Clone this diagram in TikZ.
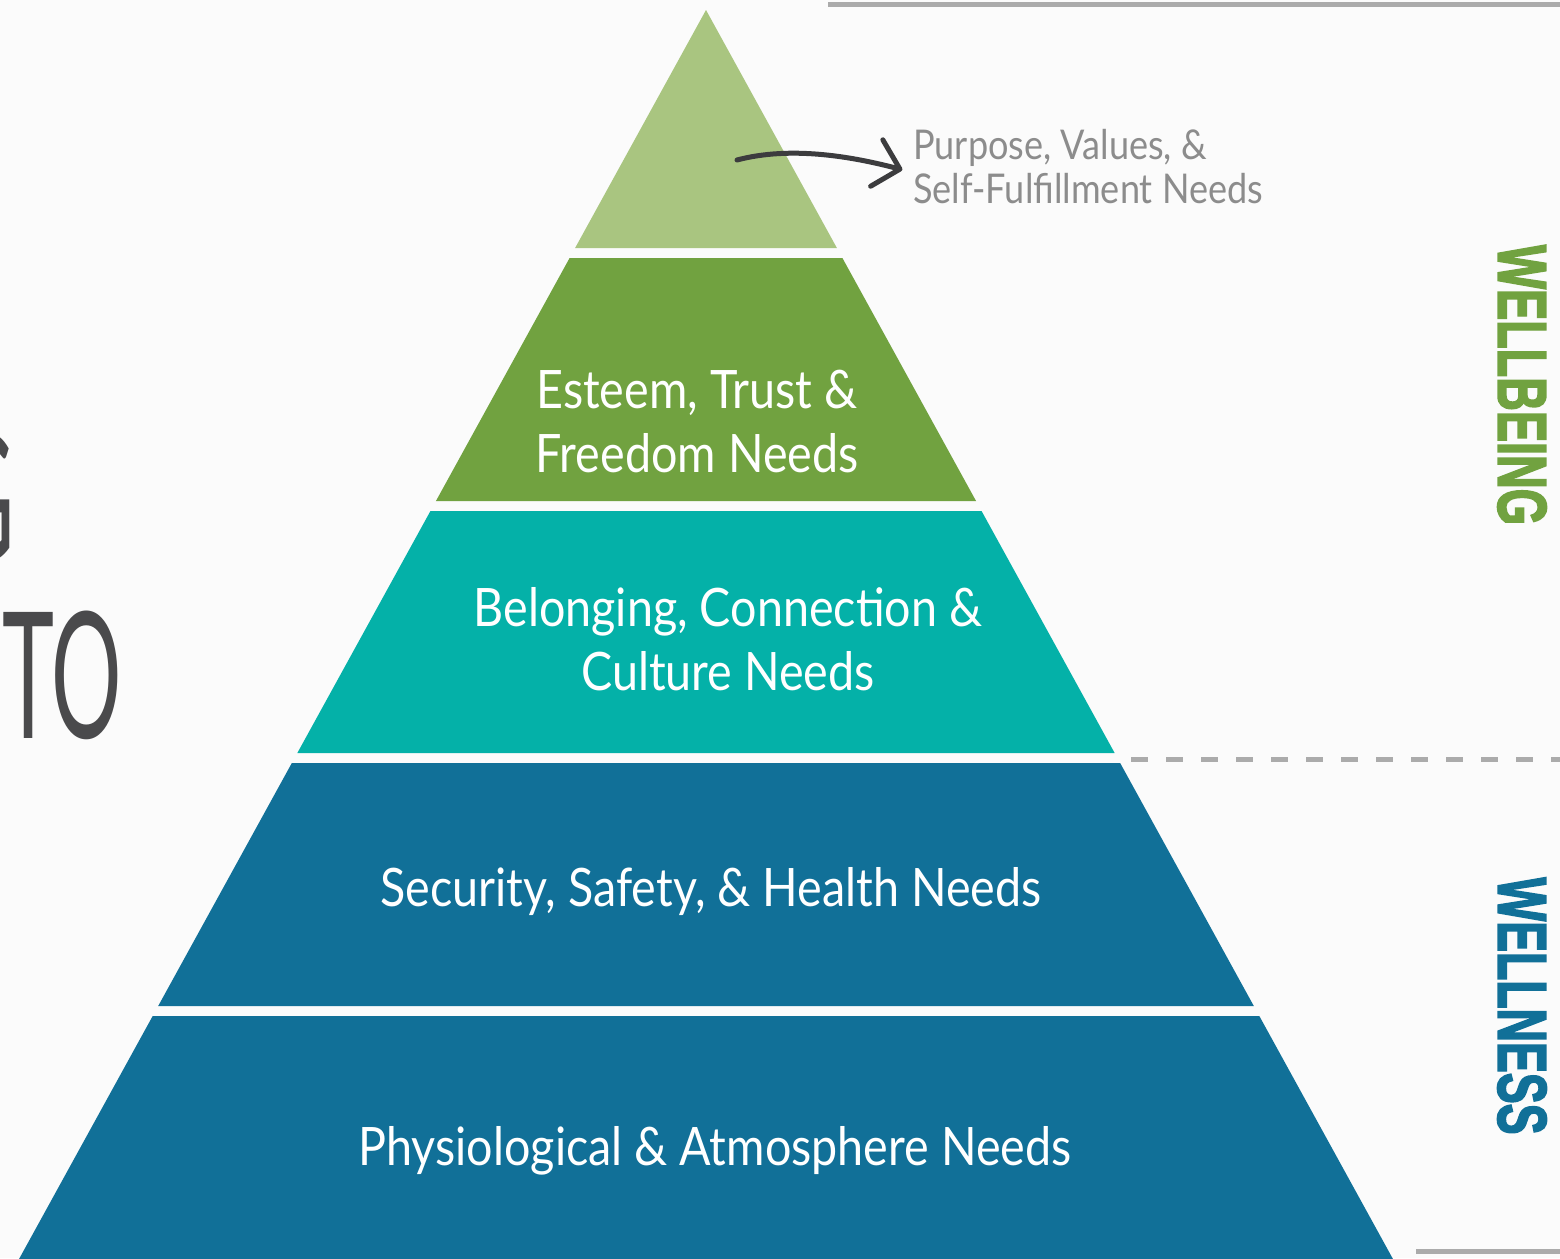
\documentclass[tikz,border=0pt]{standalone}
\usepackage{fontspec}
\setmainfont{Lato}
\newfontfamily\sidefont{Liberation Sans Bold}[FakeBold=3]
\usetikzlibrary{arrows.meta}
\definecolor{bgcol}{HTML}{FBFBFB}
\definecolor{lgreen}{HTML}{A9C580}
\definecolor{mgreen}{HTML}{71A240}
\definecolor{tealband}{HTML}{04B1A8}
\definecolor{blueband}{HTML}{117098}
\definecolor{linegray}{HTML}{ABABAB}
\definecolor{txtgray}{HTML}{8C8C8C}
\definecolor{titlegray}{HTML}{4A4A4C}
\definecolor{arrowgray}{HTML}{3C3C3E}
\newcommand\pyrband[3]{\fill[#3] ({706-0.55*(#1-10)},#1) -- ({706+0.55*(#1-10)},#1) -- ({706+0.55*(#2-10)},#2) -- ({706-0.55*(#2-10)},#2) -- cycle;}
\newcommand\bandlabel[1]{\scalebox{0.88}[1]{\fontsize{53}{64}\selectfont\begin{tabular}[b]{@{}c@{}}#1\end{tabular}}}
\newcommand\notelabel[1]{\scalebox{0.88}[1]{\fontsize{41}{43.5}\selectfont\begin{tabular}[b]{@{}l@{}}#1\end{tabular}}}
\newcommand\titlebit[1]{\scalebox{0.5}[1]{\fontsize{176}{176}\selectfont #1}}
\tikzset{
  bandtext/.style={text=white, inner sep=0pt, anchor=base},
  titletext/.style={text=titlegray, inner sep=0pt, anchor=base east},
  sidelabel/.style={rotate=-90, inner sep=0pt, anchor=center},
  rulestyle/.style={draw=linegray, line width=5pt},
}
\begin{document}
\begin{tikzpicture}[x=1pt,y=-1pt]
\useasboundingbox (0,0) rectangle (1560,1258);
\clip (0,0) rectangle (1560,1258);
\fill[bgcol] (0,0) rectangle (1560,1258);

% pyramid bands
\pyrband{10}{248}{lgreen}
\pyrband{258}{501}{mgreen}
\pyrband{511}{753}{tealband}
\pyrband{763}{1006}{blueband}
\pyrband{1016}{1270}{blueband}

% band labels (anchored at the baseline of the last line)
\node[bandtext] (esteem) at (697,472) {\bandlabel{Esteem, Trust \&\\Freedom Needs}};
\node[bandtext] (belonging) at (728,690) {\bandlabel{Belonging, Connection \&\\Culture Needs}};
\node[bandtext] (security) at (711,906) {\bandlabel{Security, Safety, \& Health Needs}};
\node[bandtext] (physio) at (715,1165) {\bandlabel{Physiological \& Atmosphere Needs}};

% top annotation
\node[text=txtgray, inner sep=0pt, anchor=base west] (purpose) at (913,203) {\notelabel{Purpose, Values, \&\\Self-Fulfillment Needs}};
\coordinate (arrowstart) at (737,160);
\draw[arrowgray, line width=5pt, line cap=round, shorten >=11pt,
  -{Straight Barb[length=24pt,width=48pt,round]}]
  (arrowstart) .. controls (790,146) and (850,156) .. (purpose.west);

% rules
\draw[rulestyle] (828,4) -- (1560,4);
\draw[rulestyle, dash pattern=on 17pt off 18pt] (1131,759.5) -- (1560,759.5);
\draw[rulestyle] (1416,1251) -- (1560,1251);

% side labels
\node[sidelabel, text=mgreen] (wellbeing) at (1522,385) {\resizebox{280pt}{48pt}{\sidefont WELLBEING}};
\node[sidelabel, text=blueband] (wellness) at (1522,1006) {\resizebox{257pt}{48pt}{\sidefont WELLNESS}};

% cut-off title on the left
\node[titletext] (titleA) at (15,560) {\titlebit{G}};
\node[titletext] (titleB) at (122,738) {\titlebit{TO}};
\node[titletext] (titleC) at (4,915) {\titlebit{B}};
\end{tikzpicture}
\end{document}
